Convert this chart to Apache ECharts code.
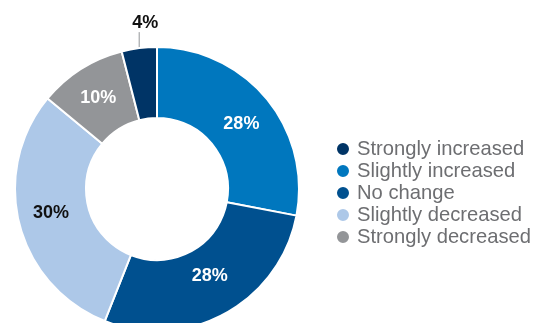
<!DOCTYPE html>
<html><head><meta charset="utf-8">
<script src="https://cdn.jsdelivr.net/npm/echarts@6/dist/echarts.min.js"></script>
<style>html,body{margin:0;padding:0;background:#fff}#c{width:535px;height:323px}</style>
</head><body><div id="c"></div>
<script>
// Slices in drawing order (clockwise from 12 o'clock)
var sliceNames = ['Slightly increased','No change','Slightly decreased','Strongly decreased','Strongly increased'];
var sliceValues = [28, 28, 30, 10, 4];
var sliceColors = ['#0077be','#00508f','#adc8e8','#939598','#003466'];
var labelColors = ['#ffffff','#ffffff','#111111','#ffffff','#111111'];
// Legend order
var legendNames = ['Strongly increased','Slightly increased','No change','Slightly decreased','Strongly decreased'];
// small label nudges (style)
var labelNudgeY = [5, -9, -3, 1, 0];

var data = sliceNames.map(function(n,i){
  var item = {name:n, value:sliceValues[i], itemStyle:{color:sliceColors[i]},
    label:{color:labelColors[i]}};
  if (i === 4) {
    item.label.position = 'outside';
    item.labelLine = {show:true, length:16, length2:0, lineStyle:{color:'#939598', width:1}};
  }
  return item;
});

var chart = echarts.init(document.getElementById('c'), null, {renderer:'canvas'});
chart.setOption({
  animation:false,
  legend:{
    data:legendNames, orient:'vertical', left:330, top:134,
    icon:'circle', itemWidth:14, itemHeight:14, itemGap:2,
    textStyle:{fontFamily:'Liberation Sans, Arial, sans-serif', fontSize:20.2, lineHeight:20, color:'#6d6e71', padding:[0,0,0,2]}
  },
  series:[{
    type:'pie', center:[157,189], radius:[71,142], startAngle:90, clockwise:true,
    avoidLabelOverlap:false,
    itemStyle:{borderColor:'#ffffff', borderWidth:2},
    label:{show:true, position:'inside', formatter:'{c}%', fontFamily:'Liberation Sans, Arial, sans-serif', fontSize:18, fontWeight:'bold'},
    labelLine:{show:false},
    labelLayout:function(p){
      if (p.dataIndex !== 4) return {dy: labelNudgeY[p.dataIndex]};
      if (!p.labelLinePoints) return;
      var x0 = p.labelLinePoints[0][0], y0 = p.labelLinePoints[0][1];
      return {x:x0+6, y:y0-25, align:'center', verticalAlign:'middle',
        labelLinePoints:[[x0,y0+7],[x0,y0-16],[x0,y0-16]]};
    },
    data:data
  }]
});
</script></body></html>
